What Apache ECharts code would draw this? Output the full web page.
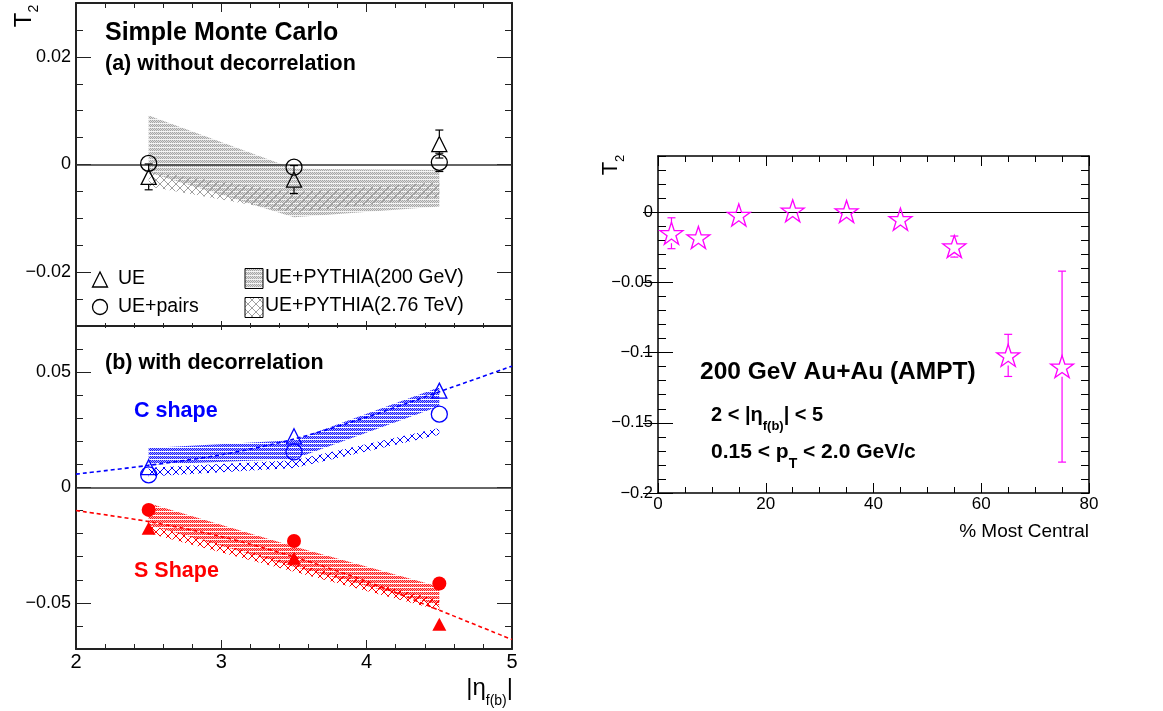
<!DOCTYPE html>
<html>
<head>
<meta charset="utf-8">
<script src="https://cdn.jsdelivr.net/npm/echarts@6/dist/echarts.min.js"></script>
<style>
  html, body { margin: 0; padding: 0; background: #fff; }
  #chart { width: 1163px; height: 711px; }
</style>
</head>
<body>
<div id="chart"></div>
<script>
// ---------- panel (a): simple Monte Carlo, without decorrelation ----------
const etaBins = [2.5, 3.5, 4.5];
const ueA = [-0.0023, -0.0028, 0.0038];
const ueAErr = [0.0024, 0.0026, 0.0026];
const pairsA = [0.0002, -0.0005, 0.0004];
const pairsAErr = [0.0006, 0.0013, 0.0017];
const py200LoA = [-0.0015, -0.0098, -0.0078];
const py200HiA = [0.0091, -0.0008, -0.0010];
const py276LoA = [-0.0041, -0.0089, -0.0061];
const py276HiA = [-0.0013, -0.0051, -0.0033];

// ---------- panel (b): with decorrelation ----------
const ueC = [0.0088, 0.0222, 0.0420];
const pairsC = [0.0055, 0.0154, 0.0318];
const py200LoC = [0.0099, 0.0123, 0.0352];
const py200HiC = [0.0171, 0.0205, 0.0435];
const py276LoC = [0.0048, 0.0084, 0.0229];
const py276HiC = [0.0086, 0.0118, 0.0258];
const ueS = [-0.0177, -0.0307, -0.0593];
const pairsS = [-0.0097, -0.0232, -0.0416];
const py200LoS = [-0.0162, -0.0343, -0.0510];
const py200HiS = [-0.0068, -0.0256, -0.0430];
const py276LoS = [-0.0198, -0.0365, -0.0532];
const py276HiS = [-0.0162, -0.0329, -0.0488];
const fitEta = [2.0, 2.5, 3.0, 3.5, 4.0, 4.5, 5.0];
const fitC = [0.0058, 0.0096, 0.0142, 0.0210, 0.0305, 0.0415, 0.0526];
const fitS = [-0.0100, -0.0148, -0.0213, -0.0301, -0.0407, -0.0532, -0.0659];

// ---------- AMPT, 200 GeV Au+Au: T2 vs centrality ----------
const centrality = [2.5, 7.5, 15, 25, 35, 45, 55, 65, 75];
const t2Ampt = [-0.0150, -0.0180, -0.0020, 0.0010, 0.0005, -0.0050, -0.0245, -0.1020, -0.1100];
const t2AmptErr = [0.0110, 0.0070, 0.0030, 0.0030, 0.0030, 0.0030, 0.0075, 0.0150, 0.0680];

// ---------- tick labels ----------
const yLabelsA = [-0.02, 0, 0.02];
const yLabelsB = [-0.05, 0, 0.05];
const yLabelsR = [-0.2, -0.15, -0.1, -0.05, 0];

const FONT = 'Liberation Sans, Arial, sans-serif';
const BLUE = '#0000ff', RED = '#ff0000', MAGENTA = '#ff00ff';

// fill patterns: fine dot pattern with light stripes, and a cross-hatch
function dotFill(ink, paper, stripe) {
  const c = document.createElement('canvas');
  c.width = 2; c.height = 4;
  const g = c.getContext('2d');
  g.fillStyle = paper; g.fillRect(0, 0, 2, 3);
  g.fillStyle = stripe; g.fillRect(0, 3, 2, 1);
  g.fillStyle = ink;
  g.fillRect(0, 0, 1, 1); g.fillRect(1, 1, 1, 1); g.fillRect(0, 2, 1, 1);
  return { image: c, repeat: 'repeat' };
}
function crossFill(color) {
  const c = document.createElement('canvas');
  c.width = 8; c.height = 8;
  const g = c.getContext('2d');
  g.strokeStyle = color; g.lineWidth = 1;
  g.beginPath();
  g.moveTo(0, 0); g.lineTo(8, 8);
  g.moveTo(8, 0); g.lineTo(0, 8);
  g.stroke();
  return { image: c, repeat: 'repeat' };
}
const grayDots = dotFill('#a6a6a6', '#dedede', '#f4f4f4');
const grayCross = crossFill('#a0a0a0');
const blueDots = dotFill('#1a1aff', '#a8a8ff', '#ffffff');
const blueCross = crossFill('#0000ff');
const redDots = dotFill('#ff1a1a', '#ffa8a8', '#ffffff');
const redCross = crossFill('#ff0000');

function fmt(v) {
  if (Math.abs(v) < 1e-12) return '0';
  return String(+v.toFixed(4)).replace('-', '\u2212');
}

// ---------- axes ----------
function xAxes(grid, min, max, interval, minorSplit, showLabels, col, lenBottom, lenTop) {
  const base = (pos, len, labels) => ({
    type: 'value', gridIndex: grid, position: pos, min, max, interval,
    axisLine: { show: true, onZero: false, lineStyle: { color: col, width: col === '#000' ? 1.5 : 2 } },
    axisTick: { show: true, inside: true, length: len, lineStyle: { color: col, width: 1 } },
    minorTick: { show: true, splitNumber: minorSplit, length: Math.round(len * 0.55), lineStyle: { color: col, width: 1 } },
    axisLabel: labels ? { show: true, color: '#000', fontFamily: FONT, fontSize: labels, margin: 3, formatter: fmt } : { show: false },
    splitLine: { show: false }, minorSplitLine: { show: false }
  });
  return [base('bottom', lenBottom, showLabels), base('top', lenTop, 0)];
}
function yAxes(grid, min, max, minorInterval, majors, labelSize, col, majLen, minLen) {
  const line = { color: col, width: col === '#000' ? 1.5 : 2 };
  const minorAx = pos => ({
    type: 'value', gridIndex: grid, position: pos, min, max, interval: minorInterval,
    axisLine: { show: true, onZero: false, lineStyle: line },
    axisTick: { show: true, inside: true, length: minLen, lineStyle: { color: col, width: 1 } },
    axisLabel: { show: false }, splitLine: { show: false }
  });
  const majorAx = (pos, labels) => ({
    type: 'value', gridIndex: grid, position: pos, min, max,
    axisLine: { show: false },
    axisTick: { show: true, inside: true, length: majLen, customValues: majors, lineStyle: { color: col, width: 1 } },
    axisLabel: labels ? { show: true, customValues: majors, color: '#000', fontFamily: FONT, fontSize: labelSize, margin: 5, formatter: fmt } : { show: false },
    splitLine: { show: false }
  });
  return [minorAx('left'), majorAx('left', true), minorAx('right'), majorAx('right', false)];
}

const xAxis = [].concat(
  xAxes(0, 2, 5, 1, 5, 0, '#222', 5, 9),
  xAxes(1, 2, 5, 1, 5, 20, '#222', 9, 4),
  xAxes(2, 0, 80, 20, 4, 17, '#000', 10, 10)
);
const yAxis = [].concat(
  yAxes(0, -0.03, 0.03, 0.005, yLabelsA, 18, '#222', 15, 7),
  yAxes(1, -0.07, 0.07, 0.01, yLabelsB, 18, '#222', 15, 7),
  yAxes(2, -0.2, 0.04, 0.01, yLabelsR, 16.5, '#000', 15, 8)
);

// ---------- series builders ----------
function band(xi, yi, xs, lo, hi, fill, z) {
  return {
    type: 'custom', xAxisIndex: xi, yAxisIndex: yi, z, silent: true,
    data: xs.map((x, i) => [x, lo[i], hi[i]]),
    encode: { x: 0, y: [1, 2] },
    renderItem: (params, api) => {
      if (params.dataIndex !== 0) return null;
      const pts = [];
      xs.forEach((x, i) => pts.push(api.coord([x, hi[i]])));
      for (let i = xs.length - 1; i >= 0; i--) pts.push(api.coord([xs[i], lo[i]]));
      return { type: 'polygon', shape: { points: pts }, style: { fill, stroke: null } };
    }
  };
}
function errorBars(xi, yi, xs, ys, es, color, gap, cap) {
  return {
    type: 'custom', xAxisIndex: xi, yAxisIndex: yi, z: 5, silent: true,
    data: xs.map((x, i) => [x, ys[i], es[i]]),
    encode: { x: 0, y: 1 },
    renderItem: (params, api) => {
      const x = api.value(0), y = api.value(1), e = api.value(2);
      const c = api.coord([x, y]);
      const top = api.coord([x, y + e])[1];
      const bot = api.coord([x, y - e])[1];
      const st = { stroke: color, lineWidth: 1.2 };
      const kids = [];
      if (c[1] - gap > top) {
        kids.push({ type: 'line', shape: { x1: c[0], y1: c[1] - gap, x2: c[0], y2: top }, style: st });
        kids.push({ type: 'line', shape: { x1: c[0] - cap, y1: top, x2: c[0] + cap, y2: top }, style: st });
      }
      if (c[1] + gap < bot) {
        kids.push({ type: 'line', shape: { x1: c[0], y1: c[1] + gap, x2: c[0], y2: bot }, style: st });
        kids.push({ type: 'line', shape: { x1: c[0] - cap, y1: bot, x2: c[0] + cap, y2: bot }, style: st });
      }
      return { type: 'group', children: kids };
    }
  };
}
function markers(xi, yi, xs, ys, symbol, size, color, hollow) {
  return {
    type: 'scatter', xAxisIndex: xi, yAxisIndex: yi, z: 6, silent: true,
    symbol, symbolSize: size,
    data: xs.map((x, i) => [x, ys[i]]),
    itemStyle: hollow
      ? { color: 'rgba(0,0,0,0)', borderColor: color, borderWidth: 1.3, opacity: 1 }
      : { color, borderWidth: 0, opacity: 1 }
  };
}
function fitLine(xi, yi, xs, ys, color) {
  return {
    type: 'line', xAxisIndex: xi, yAxisIndex: yi, z: 4, silent: true,
    smooth: 0.3, showSymbol: false, symbol: 'none',
    data: xs.map((x, i) => [x, ys[i]]),
    lineStyle: { color, width: 1.6, type: [4, 3] }
  };
}
function zeroLine(xi, yi, color, width) {
  return {
    type: 'line', xAxisIndex: xi, yAxisIndex: yi, z: 3, silent: true, data: [],
    markLine: {
      silent: true, symbol: ['none', 'none'], label: { show: false },
      lineStyle: { color, width, type: 'solid' },
      data: [{ yAxis: 0 }]
    }
  };
}

const STAR = 'path://M50,0 L61.8,35.1 L98.9,35.1 L68.9,56.7 L80.3,91.9 L50,70.2 L19.7,91.9 L31.1,56.7 L1.1,35.1 L38.2,35.1 Z';

const series = [
  // (a)
  band(0, 0, etaBins, py200LoA, py200HiA, grayDots, 1),
  band(0, 0, etaBins, py276LoA, py276HiA, grayCross, 2),
  zeroLine(0, 0, '#333', 1.5),
  errorBars(0, 0, etaBins, ueA, ueAErr, '#000', 8, 4),
  errorBars(0, 0, etaBins, pairsA, pairsAErr, '#000', 8, 4),
  markers(0, 0, etaBins, ueA, 'triangle', [15, 15], '#000', true),
  markers(0, 0, etaBins, pairsA, 'circle', 16, '#000', true),
  // (b)
  band(2, 4, etaBins, py200LoC, py200HiC, blueDots, 1),
  band(2, 4, etaBins, py276LoC, py276HiC, blueCross, 2),
  band(2, 4, etaBins, py200LoS, py200HiS, redDots, 1),
  band(2, 4, etaBins, py276LoS, py276HiS, redCross, 2),
  zeroLine(2, 4, '#333', 1.5),
  fitLine(2, 4, fitEta, fitC, BLUE),
  fitLine(2, 4, fitEta, fitS, RED),
  markers(2, 4, etaBins, ueC, 'triangle', [15, 15], BLUE, true),
  markers(2, 4, etaBins, pairsC, 'circle', 16, BLUE, true),
  markers(2, 4, etaBins, pairsS, 'circle', 14, RED, false),
  markers(2, 4, etaBins, ueS, 'triangle', [14, 13], RED, false),
  // AMPT
  zeroLine(4, 8, '#000', 1.2),
  errorBars(4, 8, centrality, t2Ampt, t2AmptErr, MAGENTA, 10, 4),
  markers(4, 8, centrality, t2Ampt, STAR, [23, 22], MAGENTA, true)
];

// ---------- text ----------
function txt(x, y, text, size, opts = {}) {
  return {
    type: 'text', x, y, silent: true, z: 100, rotation: opts.rotation || 0,
    style: {
      text, fill: opts.color || '#000',
      font: `${opts.bold ? 'bold ' : ''}${size}px ${FONT}`,
      textAlign: opts.align || 'left', textVerticalAlign: 'middle',
      rich: opts.rich
    }
  };
}
function richPair(mainSize, subSize, lineH, bold, color) {
  const w = bold ? 'bold' : 'normal';
  return {
    m: { fontSize: mainSize, fontWeight: w, fontFamily: FONT, fill: color, lineHeight: lineH },
    s: { fontSize: subSize, fontWeight: w, fontFamily: FONT, fill: color, lineHeight: subSize, verticalAlign: 'bottom' }
  };
}

const graphic = [
  txt(105, 33, 'Simple Monte Carlo', 25, { bold: true }),
  txt(105, 64, '(a) without decorrelation', 21.5, { bold: true }),
  txt(105, 363, '(b) with decorrelation', 21.5, { bold: true }),
  txt(134, 411, 'C shape', 21.5, { bold: true, color: BLUE }),
  txt(134, 571, 'S Shape', 21.5, { bold: true, color: RED }),
  // legend of panel (a)
  { type: 'polygon', silent: true, z: 100, shape: { points: [[100, 272], [92.5, 287], [107.5, 287]] }, style: { fill: 'none', stroke: '#000', lineWidth: 1.3 } },
  { type: 'circle', silent: true, z: 100, shape: { cx: 100, cy: 307, r: 7.5 }, style: { fill: 'none', stroke: '#000', lineWidth: 1.3 } },
  txt(118, 279, 'UE', 19.5),
  txt(118, 307, 'UE+pairs', 19.5),
  { type: 'rect', silent: true, z: 100, shape: { x: 245, y: 268.5, width: 18, height: 20 }, style: { fill: grayDots, stroke: '#000', lineWidth: 1 } },
  { type: 'rect', silent: true, z: 100, shape: { x: 245, y: 297.5, width: 18, height: 20 }, style: { fill: grayCross, stroke: '#000', lineWidth: 1 } },
  txt(265, 278, 'UE+PYTHIA(200 GeV)', 19.5),
  txt(265, 306, 'UE+PYTHIA(2.76 TeV)', 19.5),
  // axis titles
  txt(24, 16, '{m|T}{s|2}', 24, { align: 'center', rotation: Math.PI / 2, rich: richPair(24, 14, 34, false, '#000') }),
  txt(611, 165, '{m|T}{s|2}', 22, { align: 'center', rotation: Math.PI / 2, rich: richPair(22, 13, 32, false, '#000') }),
  txt(513, 688, '{m||η}{s|f(b)}{m||}', 23, { align: 'right', rich: richPair(24, 14, 40, false, '#000') }),
  txt(1089, 532, '% Most Central', 19, { align: 'right' }),
  // AMPT annotations
  txt(700, 372, '200 GeV Au+Au (AMPT)', 24.5, { bold: true }),
  txt(711, 415, '{m|2 < |η}{s|f(b)}{m|| < 5}', 20, { rich: richPair(20, 13, 36, true, '#000') }),
  txt(711, 452, '{m|0.15 < p}{s|T}{m| < 2.0 GeV/c}', 21, { rich: richPair(21, 14, 38, true, '#000') })
];

const chart = echarts.init(document.getElementById('chart'), null, { renderer: 'canvas' });
chart.setOption({
  animation: false,
  backgroundColor: '#fff',
  grid: [
    { left: 76, top: 3, width: 436, height: 323, outerBoundsMode: 'none' },
    { left: 76, top: 326, width: 436, height: 323, outerBoundsMode: 'none' },
    { left: 658, top: 156, width: 431, height: 337, outerBoundsMode: 'none' }
  ],
  xAxis, yAxis, series, graphic
});
</script>
</body>
</html>
